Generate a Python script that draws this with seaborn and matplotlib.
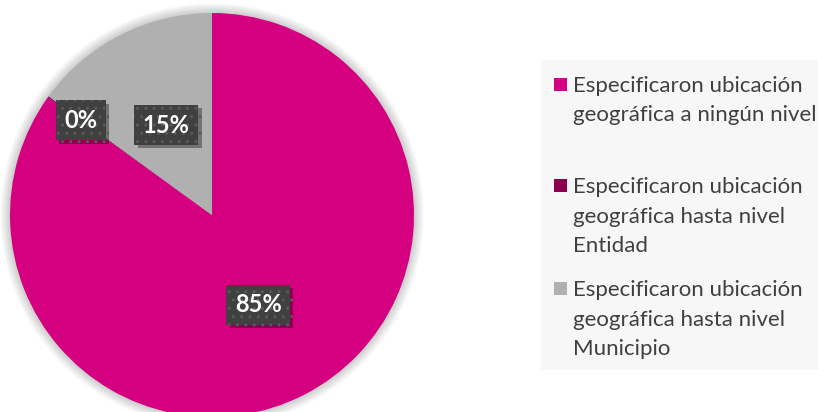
import numpy as np
import matplotlib.pyplot as plt
import matplotlib.patheffects as pe
import seaborn as sns
from matplotlib.patches import Rectangle, Circle

# Data
categories = [
    'Especificaron ubicación\ngeográfica a ningún nivel',
    'Especificaron ubicación\ngeográfica hasta nivel\nEntidad',
    'Especificaron ubicación\ngeográfica hasta nivel\nMunicipio',
]
shares = [84.9, 0.1, 15.0]
colors = ['#D5007F', '#8C0050', '#B0B0B0']
label_dist = [0.5, 0.8, 0.5]

sns.set_style("white")
plt.rcParams['font.family'] = ['Lato', 'DejaVu Sans']

W, H = 818, 412
fig = plt.figure(figsize=(W / 100, H / 100), dpi=100)

# light legend panel
fig.patches.append(Rectangle((541 / W, 1 - 370 / H), 277 / W, 310 / H,
                             transform=fig.transFigure, facecolor='#F7F7F7',
                             edgecolor='none', zorder=0))

ax = fig.add_axes([10 / W, -5 / H, 404 / W, 404 / H])
ax.set_xlim(-1, 1)
ax.set_ylim(-1, 1)

# soft halo behind the pie
for k in range(8):
    ax.add_patch(Circle((0, 0), 1 + 0.006 * (k + 1), facecolor='#000000',
                        edgecolor='none', alpha=0.025, zorder=0, clip_on=False))

wedges, _ = ax.pie(shares, colors=colors, startangle=90, counterclock=False,
                   radius=1, wedgeprops=dict(linewidth=0, zorder=1))
ax.set_xlim(-1, 1)
ax.set_ylim(-1, 1)
ax.set_aspect('equal')
ax.axis('off')

# percentage labels in dark boxes
for w, val, d in zip(wedges, shares, label_dist):
    ang = np.deg2rad((w.theta1 + w.theta2) / 2)
    t = ax.text(d * np.cos(ang), d * np.sin(ang), f"{val:.0f}%", ha='center', va='center',
                color='white', fontsize=17, fontweight='bold', zorder=5,
                bbox=dict(boxstyle='square,pad=0.36', facecolor='#404040',
                          edgecolor='#5A5A5A', linewidth=0, hatch='..'))
    t.get_bbox_patch().set_path_effects([
        pe.SimplePatchShadow(offset=(2.5, -2.5), shadow_rgbFace='black', alpha=0.35),
        pe.Normal()])

# legend drawn by hand so the swatch sits beside the first line
entry_base = [92, 193, 296]
line_h = 29.5
for lab, c, yb in zip(categories, colors, entry_base):
    fig.patches.append(Rectangle((554 / W, 1 - (yb - 1) / H), 13 / W, 13 / H,
                                 transform=fig.transFigure, facecolor=c,
                                 edgecolor='none', zorder=2))
    for i, line in enumerate(lab.split('\n')):
        fig.text(573 / W, 1 - (yb + i * line_h) / H, line, ha='left', va='baseline',
                 fontsize=16, color='#404040')

plt.savefig('out.png', dpi=100)
plt.close()
